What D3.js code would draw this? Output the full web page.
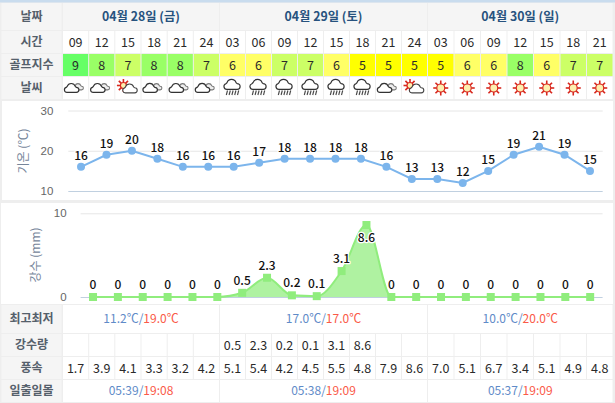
<!DOCTYPE html>
<html>
<head>
<meta charset="utf-8">
<script src="https://cdn.jsdelivr.net/npm/d3@7/dist/d3.min.js"></script>
<style>
    html, body { margin: 0; padding: 0; background: #eeeeee; }
    svg { display: block; font-family: "Noto Sans CJK KR", "Noto Sans", sans-serif; }
    .halo { paint-order: stroke; stroke: #ffffff; stroke-width: 2.5px; stroke-linejoin: round; }
</style>
</head>
<body>
<div id="chart"></div>
<script>
// Data
//________________________________________________________________________________
var days = ["04월 28일 (금)", "04월 29일 (토)", "04월 30일 (일)"];
var hoursDay1 = ["09", "12", "15", "18", "21", "24"];
var hoursDay2 = ["03", "06", "09", "12", "15", "18", "21", "24"];
var hoursDay3 = ["03", "06", "09", "12", "15", "18", "21"];
var golfIndex = [9, 8, 7, 8, 8, 7, 6, 6, 7, 7, 6, 5, 5, 5, 5, 6, 6, 8, 6, 7, 7];
var weather = ["cloud", "cloud", "partly", "cloud", "cloud", "cloud",
    "rain", "rain", "rain", "rain", "rain", "rain", "cloud", "partly",
    "sun", "sun", "sun", "sun", "sun", "sun", "sun"];
var temperature = [16, 19, 20, 18, 16, 16, 16, 17, 18, 18, 18, 18, 16, 13, 13, 12, 15, 19, 21, 19, 15];
var rainfall = [0, 0, 0, 0, 0, 0, 0.5, 2.3, 0.2, 0.1, 3.1, 8.6, 0, 0, 0, 0, 0, 0, 0, 0, 0];
var windSpeed = [1.7, 3.9, 4.1, 3.3, 3.2, 4.2, 5.1, 5.4, 4.2, 4.5, 5.5, 4.8, 7.9, 8.6, 7.0, 5.1, 6.7, 3.4, 5.1, 4.9, 4.8];
var tempMin = ["11.2℃", "17.0℃", "10.0℃"];
var tempMax = ["19.0℃", "17.0℃", "20.0℃"];
var sunrise = ["05:39", "05:38", "05:37"];
var sunset = ["19:08", "19:09", "19:09"];
var tempTicks = [10, 20, 30];
var rainTicks = [0, 10];

// Layout constants
//________________________________________________________________________________
var WIDTH = 615, HEIGHT = 403;
var LABEL_X = [1, 62];
var DAY_EDGES = [62.5, 219.5, 427.5, 613];
var COLOR_LABEL_BG = "#f5f5f5", COLOR_LABEL = "#55606b", COLOR_DATE = "#27527e";
var COLOR_MIN = "#5f8bc8", COLOR_MAX = "#fa5a48";
var COLOR_TEMP = "#7cb5ec", COLOR_RAIN = "#90ed7d";
var GOLF_COLORS = {5: "#ffff00", 6: "#ffff66", 7: "#ccff66", 8: "#99ff66", 9: "#66ff66"};

var svg = d3.select("#chart").append("svg")
    .attr("width", WIDTH).attr("height", HEIGHT);

svg.append("rect").attr("width", WIDTH).attr("height", HEIGHT).attr("fill", "#eeeeee");
svg.append("rect").attr("width", WIDTH).attr("height", 2.5).attr("fill", "#c9dcee");

// one band scale per day, because the columns differ slightly in width
var hourGroups = [hoursDay1, hoursDay2, hoursDay3];
var columns = [];
hourGroups.forEach(function(hours, di){
    var band = d3.scaleBand()
        .domain(d3.range(hours.length))
        .range([DAY_EDGES[di], DAY_EDGES[di + 1]]);
    hours.forEach(function(h, i){
        columns.push({hour: h, x: band(i), w: band.bandwidth()});
    });
});

// Table helpers
//________________________________________________________________________________
function cell(x, y, w, h, fill){
    svg.append("rect")
        .attr("x", x + 0.5).attr("y", y)
        .attr("width", w - 1).attr("height", h)
        .attr("fill", fill);
}

function cellText(cx, y, h, txt, color, weight, size){
    return svg.append("text")
        .attr("x", cx).attr("y", y + h / 2)
        .attr("dy", "0.36em")
        .attr("text-anchor", "middle")
        .attr("font-size", size || 12)
        .attr("font-weight", weight || 400)
        .attr("fill", color)
        .text(txt);
}

function labelCell(y, h, txt){
    cell(LABEL_X[0], y, LABEL_X[1] - LABEL_X[0], h, COLOR_LABEL_BG);
    cellText((LABEL_X[0] + LABEL_X[1]) / 2, y, h, txt, COLOR_LABEL, 700, 12);
}

function hourRow(y, h, txt, values, fillFn){
    labelCell(y, h, txt);
    columns.forEach(function(c, i){
        cell(c.x, y, c.w, h, fillFn ? fillFn(i) : "#ffffff");
        if(values != null && values[i] != null){
            cellText(c.x + c.w / 2, y, h, values[i], "#2a2a2a", 400, 12.5);
        }
    });
}

function dayPairRow(y, h, txt, lows, highs){
    labelCell(y, h, txt);
    days.forEach(function(d, di){
        cell(DAY_EDGES[di], y, DAY_EDGES[di + 1] - DAY_EDGES[di], h, "#ffffff");
        var t = cellText((DAY_EDGES[di] + DAY_EDGES[di + 1]) / 2, y, h, null, COLOR_MIN, 400, 12);
        t.append("tspan").attr("fill", COLOR_MIN).text(lows[di]);
        t.append("tspan").attr("fill", COLOR_MIN).text("/");
        t.append("tspan").attr("fill", COLOR_MAX).text(highs[di]);
    });
}

// Weather icons
//________________________________________________________________________________
function cloudPath(x, y, s){
    var p = d3.path();
    p.moveTo(x - 6 * s, y + 4 * s);
    p.arc(x - 6 * s, y + 1 * s, 3 * s, Math.PI / 2, Math.PI * 1.4);
    p.arc(x - 1 * s, y - 1.5 * s, 5 * s, Math.PI * 1.1, Math.PI * 1.9);
    p.arc(x + 5 * s, y + 1 * s, 3 * s, Math.PI * 1.5, Math.PI / 2);
    p.closePath();
    return p.toString();
}

function drawCloud(g, x, y){
    g.append("path").attr("d", cloudPath(x + 3, y - 0.5, 0.6))
        .attr("fill", "#eeeeee").attr("stroke", "#777777").attr("stroke-width", 1.1);
    g.append("path").attr("d", cloudPath(x - 3.5, y + 1, 0.85))
        .attr("fill", "#ffffff").attr("stroke", "#333333").attr("stroke-width", 1.2);
}

function drawRain(g, x, y){
    g.append("path").attr("d", cloudPath(x, y - 2.5, 0.95))
        .attr("fill", "#ffffff").attr("stroke", "#333333").attr("stroke-width", 1.2);
    d3.range(5).forEach(function(k){
        var rx = x - 5 + k * 2.8;
        g.append("line")
            .attr("x1", rx).attr("y1", y + 2.5)
            .attr("x2", rx - 1.2).attr("y2", y + 7)
            .attr("stroke", "#444444").attr("stroke-width", 1.1);
    });
}

function drawSun(g, x, y, r){
    d3.range(8).forEach(function(k){
        var a = k * Math.PI / 4;
        g.append("line")
            .attr("x1", x + Math.cos(a) * r).attr("y1", y + Math.sin(a) * r)
            .attr("x2", x + Math.cos(a) * (r + 3.5)).attr("y2", y + Math.sin(a) * (r + 3.5))
            .attr("stroke", "#d8281e").attr("stroke-width", 1.6);
    });
    g.append("circle").attr("cx", x).attr("cy", y).attr("r", r)
        .attr("fill", "#fdf0b0").attr("stroke", "#d8281e").attr("stroke-width", 1.2);
}

function drawPartly(g, x, y){
    drawSun(g, x - 4.5, y - 2.5, 3);
    g.append("path").attr("d", cloudPath(x + 2.5, y + 1.5, 0.85))
        .attr("fill", "#ffffff").attr("stroke", "#444444").attr("stroke-width", 1.1);
}

var ICONS = {cloud: drawCloud, rain: drawRain, sun: function(g, x, y){ drawSun(g, x, y, 4); }, partly: drawPartly};

// Top table
//________________________________________________________________________________
labelCell(3, 27, "날짜");
days.forEach(function(d, di){
    cell(DAY_EDGES[di], 3, DAY_EDGES[di + 1] - DAY_EDGES[di], 27, COLOR_LABEL_BG);
    cellText((DAY_EDGES[di] + DAY_EDGES[di + 1]) / 2, 3, 27, d, COLOR_DATE, 700, 12.3);
});
hourRow(31, 22, "시간", columns.map(function(c){ return c.hour; }));
hourRow(54, 22, "골프지수", golfIndex, function(i){ return GOLF_COLORS[golfIndex[i]]; });
hourRow(77, 22, "날씨", null);

var iconLayer = svg.append("g");
columns.forEach(function(c, i){
    ICONS[weather[i]](iconLayer, c.x + c.w / 2, 88);
});

// Temperature chart
//________________________________________________________________________________
svg.append("rect").attr("x", 2).attr("y", 101).attr("width", 611).attr("height", 99).attr("fill", "#ffffff");

var xTemp = d3.scaleBand().domain(d3.range(temperature.length)).range([68.3, 602.7]);
var yTemp = d3.scaleLinear().domain([10, 30]).range([191, 110.5]);
var xTempC = function(i){ return xTemp(i) + xTemp.bandwidth() / 2; };

var tempAxis = svg.append("g")
    .attr("transform", "translate(68.3,0)")
    .call(d3.axisLeft(yTemp).tickValues(tempTicks).tickSize(-534.4).tickPadding(15));
tempAxis.select(".domain").remove();
tempAxis.selectAll("line").attr("stroke", function(d){ return d == 10 ? "#c0d0e0" : "#e6e6e6"; });
tempAxis.selectAll("text").attr("fill", "#666666").attr("font-size", 11.5).attr("font-family", "inherit");

svg.append("text")
    .attr("transform", "translate(24,151) rotate(-90)")
    .attr("dy", "0.36em")
    .attr("text-anchor", "middle")
    .attr("font-size", 12)
    .attr("fill", "#76859a")
    .text("기온 (℃)");

svg.append("path")
    .datum(temperature)
    .attr("fill", "none")
    .attr("stroke", COLOR_TEMP)
    .attr("stroke-width", 2)
    .attr("d", d3.line()
        .x(function(d, i){ return xTempC(i); })
        .y(function(d){ return yTemp(d); }));

svg.selectAll(".temp-dot").data(temperature).enter().append("circle")
    .attr("class", "temp-dot")
    .attr("cx", function(d, i){ return xTempC(i); })
    .attr("cy", function(d){ return yTemp(d); })
    .attr("r", 4)
    .attr("fill", COLOR_TEMP);

svg.selectAll(".temp-label").data(temperature).enter().append("text")
    .attr("class", "temp-label halo")
    .attr("x", function(d, i){ return xTempC(i); })
    .attr("y", function(d){ return yTemp(d) - 7; })
    .attr("text-anchor", "middle")
    .attr("font-size", 12)
    .attr("font-weight", 500)
    .attr("fill", "#111111")
    .text(function(d){ return d; });

// Rainfall chart
//________________________________________________________________________________
svg.append("rect").attr("x", 1).attr("y", 203).attr("width", 612).attr("height", 101).attr("fill", "#ffffff");

var xRain = d3.scaleBand().domain(d3.range(rainfall.length)).range([80.6, 602.6]);
var yRain = d3.scaleLinear().domain([0, 10]).range([297, 213.3]);
var xRainC = function(i){ return xRain(i) + xRain.bandwidth() / 2; };

var rainAxis = svg.append("g")
    .attr("transform", "translate(80.6,0)")
    .call(d3.axisLeft(yRain).tickValues(rainTicks).tickSize(-522).tickPadding(14));
rainAxis.select(".domain").remove();
rainAxis.selectAll("line").attr("stroke", function(d){ return d == 0 ? "#c0d0e0" : "#e6e6e6"; });
rainAxis.selectAll("text").attr("fill", "#666666").attr("font-size", 11.5).attr("font-family", "inherit");

svg.append("text")
    .attr("transform", "translate(36,255) rotate(-90)")
    .attr("dy", "0.36em")
    .attr("text-anchor", "middle")
    .attr("font-size", 12)
    .attr("fill", "#76859a")
    .text("강수 (mm)");

svg.append("path")
    .datum(rainfall)
    .attr("fill", COLOR_RAIN)
    .attr("fill-opacity", 0.72)
    .attr("d", d3.area()
        .curve(d3.curveMonotoneX)
        .x(function(d, i){ return xRainC(i); })
        .y0(yRain(0))
        .y1(function(d){ return yRain(d); }));

svg.append("path")
    .datum(rainfall)
    .attr("fill", "none")
    .attr("stroke", COLOR_RAIN)
    .attr("stroke-width", 2)
    .attr("d", d3.line()
        .curve(d3.curveMonotoneX)
        .x(function(d, i){ return xRainC(i); })
        .y(function(d){ return yRain(d); }));

svg.selectAll(".rain-dot").data(rainfall).enter().append("rect")
    .attr("class", "rain-dot")
    .attr("x", function(d, i){ return xRainC(i) - 4; })
    .attr("y", function(d){ return yRain(d) - 4; })
    .attr("width", 8).attr("height", 8)
    .attr("fill", COLOR_RAIN);

// the top value does not fit above its marker, so its label sits below
svg.selectAll(".rain-label").data(rainfall).enter().append("text")
    .attr("class", "rain-label halo")
    .attr("x", function(d, i){ return xRainC(i); })
    .attr("y", function(d){ return d > 8 ? yRain(d) + 17 : yRain(d) - 8; })
    .attr("text-anchor", "middle")
    .attr("font-size", 12)
    .attr("font-weight", 500)
    .attr("fill", "#111111")
    .text(function(d){ return d; });

// Bottom table
//________________________________________________________________________________
dayPairRow(305, 28, "최고최저", tempMin, tempMax);
hourRow(334, 22, "강수량", rainfall.map(function(d){ return d > 0 ? d.toFixed(1) : null; }));
hourRow(357, 22, "풍속", windSpeed.map(function(d){ return d.toFixed(1); }));
dayPairRow(380, 22, "일출일몰", sunrise, sunset);
</script>
</body>
</html>
